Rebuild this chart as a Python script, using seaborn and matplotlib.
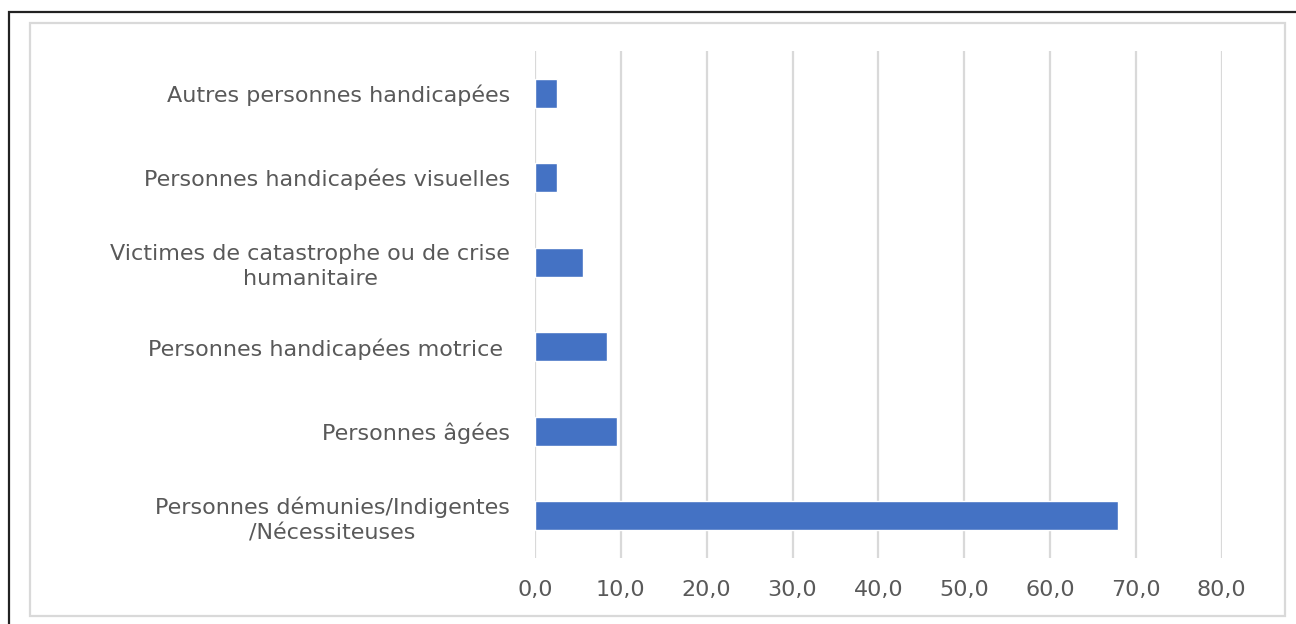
import matplotlib
matplotlib.use("Agg")
import matplotlib.pyplot as plt
from matplotlib.patches import Rectangle
from matplotlib.ticker import FuncFormatter
import pandas as pd
import seaborn as sns

# Categories (top to bottom) and their shares in percent
categories = [
    "Autres personnes handicapées",
    "Personnes handicapées visuelles",
    "Victimes de catastrophe ou de crise\nhumanitaire",
    "Personnes handicapées motrice ",
    "Personnes âgées",
    "Personnes démunies/Indigentes\n/Nécessiteuses",
]
values = [2.6, 2.6, 5.6, 8.4, 9.6, 67.9]
x_ticks = [0, 10, 20, 30, 40, 50, 60, 70, 80]

df = pd.DataFrame({"categorie": categories, "valeur": values})

sns.set_theme(style="white")
plt.rcParams["font.family"] = ["DejaVu Sans"]

TEXT = "#595959"
GRID = "#D9D9D9"
BAR = "#4472C4"

fig = plt.figure(figsize=(12.96, 6.24), dpi=100)
fig.patch.set_facecolor("white")

# outer black frame and inner light chart-area frame
W, H = 1296.0, 624.0
fig.add_artist(Rectangle((9 / W, -0.05), 1.2, 1 - 12 / H + 0.05,
                         transform=fig.transFigure, fill=False,
                         edgecolor="#222222", linewidth=1.6, zorder=0))
fig.add_artist(Rectangle((30 / W, 1 - 616 / H), (1285 - 30) / W, (616 - 23) / H,
                         transform=fig.transFigure, fill=False,
                         edgecolor=GRID, linewidth=1.6, zorder=0))

ax = fig.add_axes([535 / W, 1 - 558 / H, (1221.7 - 535) / W, (558 - 51) / H])
ax.set_facecolor("none")

sns.barplot(data=df, x="valeur", y="categorie", order=categories,
            orient="h", color=BAR, width=0.345, saturation=1, ax=ax, zorder=3)

ax.set_xlim(x_ticks[0], x_ticks[-1])
ax.set_ylim(len(categories) - 0.5, -0.5)
ax.set_xticks(x_ticks)
ax.xaxis.set_major_formatter(FuncFormatter(lambda v, p: f"{v:.1f}".replace(".", ",")))
ax.grid(axis="x", color=GRID, linewidth=1.6, zorder=0)
ax.grid(axis="y", visible=False)
for s in ax.spines.values():
    s.set_visible(False)

ax.set_xlabel("")
ax.set_ylabel("")
ax.tick_params(axis="x", length=0, pad=15.5, labelsize=16, labelcolor=TEXT)
ax.tick_params(axis="y", length=0, pad=18, labelsize=16, labelcolor=TEXT)
for lbl in ax.get_yticklabels():
    lbl.set_multialignment("center")
    lbl.set_linespacing(1.3)

fig.savefig("out.png", dpi=100, facecolor="white")
